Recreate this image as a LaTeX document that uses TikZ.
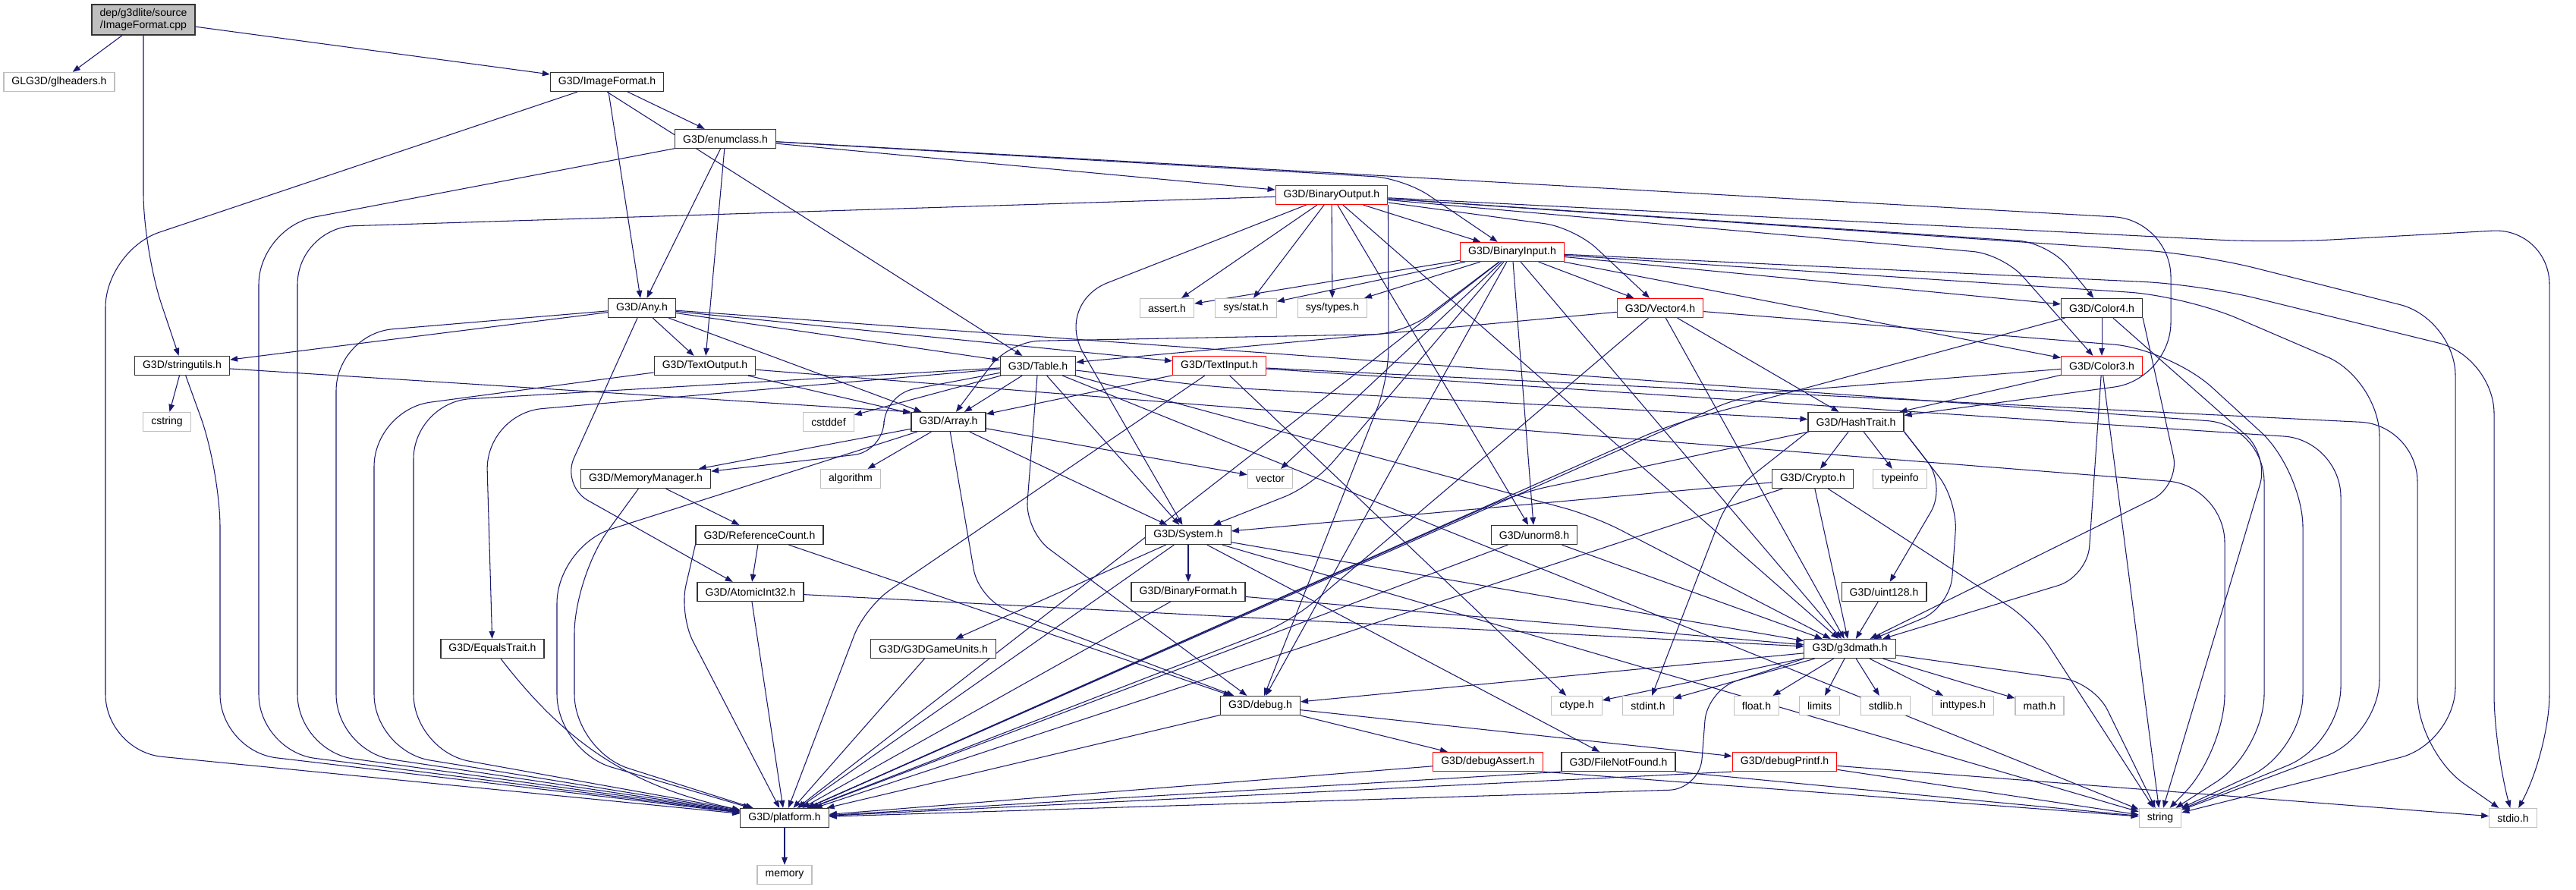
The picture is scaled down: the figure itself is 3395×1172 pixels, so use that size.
\documentclass[tikz,border=0pt]{standalone}
\usepackage{fontspec}
\setmainfont{Liberation Sans}
\usepackage{xcolor}
\usetikzlibrary{arrows.meta,backgrounds}
\definecolor{edgeblue}{HTML}{191970}
\definecolor{extgray}{HTML}{BFBFBF}
\newcommand{\hfont}{\fontsize{8}{9.5}\selectfont}
\tikzset{
  hdr/.style={draw=black!80, fill=white, line width=0.7pt, minimum height=5mm,
    inner xsep=6pt, inner ysep=0pt, font=\hfont},
  trunc/.style={hdr, draw=red},
  ext/.style={hdr, draw=extgray},
  srcfile/.style={hdr, fill=extgray, minimum height=8mm, align=center},
  dep/.style={-{Triangle[length=2mm,width=1.5mm]}, draw=edgeblue, line width=0.6pt},
  lane/.style={dep, rounded corners=15mm},
  bent/.style={dep, rounded corners=8mm},
}

\begin{document}
\begin{tikzpicture}[x=0.2mm, y=-0.2mm]
\useasboundingbox (0,0) rectangle (3395,1172);
% nodes
\node[srcfile] (src) at (189,26) {dep/g3dlite/source\\/ImageFormat.cpp};
\node[ext] (glheaders) at (78,108) {GLG3D/glheaders.h};
\node[hdr] (ImageFormat) at (800,108) {G3D/ImageFormat.h};
\node[hdr] (enumclass) at (956,183) {G3D/enumclass.h};
\node[trunc] (BinaryOutput) at (1755,257) {G3D/BinaryOutput.h};
\node[trunc] (BinaryInput) at (1993,332) {G3D/BinaryInput.h};
\node[hdr] (Any) at (846,406) {G3D/Any.h};
\node[ext] (assertH) at (1538,406) {assert.h};
\node[ext] (sysstat) at (1642,406) {sys/stat.h};
\node[ext] (systypes) at (1756,406) {sys/types.h};
\node[trunc] (Vector4) at (2188,406) {G3D/Vector4.h};
\node[hdr] (Color4) at (2770,406) {G3D/Color4.h};
\node[hdr] (stringutils) at (240,482) {G3D/stringutils.h};
\node[hdr] (TextOutput) at (929,482) {G3D/TextOutput.h};
\node[hdr] (Table) at (1368,482) {G3D/Table.h};
\node[trunc] (TextInput) at (1607,482) {G3D/TextInput.h};
\node[trunc] (Color3) at (2770,482) {G3D/Color3.h};
\node[ext] (cstring) at (220,556) {cstring};
\node[ext] (cstddef) at (1092,556) {cstddef};
\node[hdr] (Array) at (1250,556) {G3D/Array.h};
\node[hdr] (HashTrait) at (2446,556) {G3D/HashTrait.h};
\node[hdr] (MemoryManager) at (851,631) {G3D/MemoryManager.h};
\node[ext] (algorithm) at (1121,631) {algorithm};
\node[ext] (vector) at (1674,631) {vector};
\node[hdr] (Crypto) at (2389,631) {G3D/Crypto.h};
\node[ext] (typeinfo) at (2504,631) {typeinfo};
\node[hdr] (ReferenceCount) at (1001,705) {G3D/ReferenceCount.h};
\node[hdr] (System) at (1566,705) {G3D/System.h};
\node[hdr] (unorm8) at (2022,705) {G3D/unorm8.h};
\node[hdr] (AtomicInt32) at (989,780) {G3D/AtomicInt32.h};
\node[hdr] (BinaryFormat) at (1566,780) {G3D/BinaryFormat.h};
\node[hdr] (uint128) at (2483,780) {G3D/uint128.h};
\node[hdr] (EqualsTrait) at (649,855) {G3D/EqualsTrait.h};
\node[hdr] (G3DGameUnits) at (1230,855) {G3D/G3DGameUnits.h};
\node[hdr] (g3dmath) at (2438,855) {G3D/g3dmath.h};
\node[hdr] (debug) at (1661,930) {G3D/debug.h};
\node[ext] (ctype) at (2078,930) {ctype.h};
\node[ext] (stdint) at (2172,930) {stdint.h};
\node[ext] (floatH) at (2315,930) {float.h};
\node[ext] (limits) at (2398,930) {limits};
\node[ext] (stdlib) at (2485,930) {stdlib.h};
\node[ext] (inttypes) at (2587,930) {inttypes.h};
\node[ext] (mathH) at (2688,930) {math.h};
\node[trunc] (debugAssert) at (1961,1004) {G3D/debugAssert.h};
\node[hdr] (FileNotFound) at (2133,1004) {G3D/FileNotFound.h};
\node[trunc] (debugPrintf) at (2352,1004) {G3D/debugPrintf.h};
\node[hdr] (platform) at (1034,1078) {G3D/platform.h};
\node[ext] (string) at (2847,1078) {string};
\node[ext] (stdio) at (3312,1078) {stdio.h};
\node[ext] (memory) at (1034,1153) {memory};

% edges
\begin{scope}[on background layer]
% ImageFormat.cpp
\draw[dep] (src) -- (glheaders);
\draw[dep] (src) -- (ImageFormat);
\draw[lane] (src) -- (189,330) -- (stringutils);
% ImageFormat.h
\draw[lane] (ImageFormat) -- (139,330) -- (139,990) -- (platform);
\draw[dep] (ImageFormat) -- (enumclass);
\draw[dep] (ImageFormat) -- (Any);
\draw[dep] (ImageFormat.south) -- (Table);
% enumclass.h
\draw[lane] (enumclass) -- (341,300) -- (341,990) -- (platform);
\draw[dep] (enumclass) -- (Any);
\draw[dep] (enumclass) -- (TextOutput);
\draw[dep] (enumclass) -- (BinaryOutput);
\draw[bent] (enumclass) -- (1850,235) -- (BinaryInput);
\draw[lane] (enumclass) -- (2861,290) -- (2861,500) -- (HashTrait);
% BinaryOutput.h
\draw[dep] (BinaryOutput) -- (BinaryInput);
\draw[dep] (BinaryOutput) -- (assertH);
\draw[dep] (BinaryOutput) -- (sysstat);
\draw[dep] (BinaryOutput) -- (systypes);
\draw[dep] (BinaryOutput) -- (unorm8);
\draw[dep] (BinaryOutput) -- (g3dmath);
\draw[lane] (BinaryOutput) -- (392,300) -- (392,990) -- (platform);
\draw[lane] (BinaryOutput) -- (1390,400) -- (System);
\draw[bent] (BinaryOutput.south east) -- (1830,500) -- (debug);
\draw[bent] (BinaryOutput) -- (2075,300) -- (Vector4);
\draw[bent] (BinaryOutput) -- (2700,320) -- (Color4);
\draw[bent] (BinaryOutput) -- (2640,335) -- (Color3);
\draw[lane] (BinaryOutput) -- (2900,335) -- (3236,420) -- (3236,980) -- (string);
\draw[lane] (BinaryOutput) -- (3000,320) -- (3360,300) -- (3360,990) -- (stdio);
% BinaryInput.h
\draw[dep] (BinaryInput) -- (assertH);
\draw[dep] (BinaryInput) -- (sysstat);
\draw[dep] (BinaryInput) -- (systypes);
\draw[dep] (BinaryInput) -- (vector);
\draw[dep] (BinaryInput) -- (unorm8);
\draw[dep] (BinaryInput) -- (Vector4);
\draw[dep] (BinaryInput) -- (Color4);
\draw[dep] (BinaryInput) -- (Color3);
\draw[dep] (BinaryInput) -- (g3dmath);
\draw[dep] (BinaryInput) -- (debug);
\draw[dep] (BinaryInput) -- (platform);
\draw[bent] (BinaryInput) -- (1850,440) -- (1330,450) -- (Array);
\draw[bent] (BinaryInput) -- (1730,640) -- (System);
\draw[lane] (BinaryInput) -- (2880,390) -- (3136,500) -- (3136,970) -- (string);
\draw[lane] (BinaryInput) -- (2900,375) -- (3287,470) -- (3287,990) -- (stdio);
% Any.h
\draw[lane] (Any) -- (443,440) -- (443,990) -- (platform);
\draw[dep] (Any) -- (stringutils);
\draw[dep] (Any) -- (TextOutput);
\draw[dep] (Any) -- (Table);
\draw[dep] (Any) -- (Array);
\draw[dep] (Any) -- (TextInput);
\draw[bent] (Any) -- (740,640) -- (AtomicInt32);
\draw[lane] (Any) -- (2984,560) -- (2984,990) -- (string);
% stringutils.h
\draw[dep] (stringutils) -- (cstring);
\draw[lane] (stringutils) -- (290,620) -- (290,990) -- (platform);
\draw[dep] (stringutils) -- (Array.north west);
% TextOutput.h
\draw[lane] (TextOutput) -- (493,540) -- (493,990) -- (platform);
\draw[dep] (TextOutput) -- (Array);
\draw[lane] (TextOutput) -- (2932,640) -- (2932,990) -- (string);
% Table.h
\draw[dep] (Table) -- (cstddef);
\draw[dep] (Table) -- (Array);
\draw[dep] (Table) -- (System);
\draw[dep] (Table) -- (string);
\draw[bent] (Table) -- (1165,520) -- (1165,595) -- (MemoryManager);
\draw[bent] (Table) -- (1600,510) -- (HashTrait);
\draw[bent] (Table) -- (2100,680) -- (g3dmath);
\draw[bent] (Table) -- (1351,700) -- (debug);
\draw[lane] (Table) -- (545,530) -- (545,990) -- (platform);
\draw[lane] (Table) -- (640,545) -- (EqualsTrait);
% TextInput.h
\draw[dep] (TextInput) -- (Array);
\draw[dep] (TextInput) -- (ctype);
\draw[bent] (TextInput) -- (1140,800) -- (platform);
\draw[lane] (TextInput) -- (3085,580) -- (3085,980) -- (string);
\draw[lane] (TextInput) -- (3186,560) -- (3186,990) -- (stdio);
% Vector4.h
\draw[dep] (Vector4) -- (Table);
\draw[dep] (Vector4) -- (HashTrait);
\draw[dep] (Vector4) -- (g3dmath);
\draw[bent] (Vector4) -- (1700,820) -- (platform);
\draw[lane] (Vector4) -- (2860,460) -- (3035,620) -- (3035,990) -- (string);
% Color4.h, Color3.h
\draw[dep] (Color4) -- (Color3);
\draw[bent] (Color4.south east) -- (2873,640) -- (g3dmath);
\draw[bent] (Color4) -- (2200,560) -- (platform);
\draw[bent] (Color4) -- (2990,600) -- (string);
\draw[dep] (Color3) -- (HashTrait);
\draw[dep] (Color3) -- (string);
\draw[bent] (Color3) -- (2300,520) -- (platform);
\draw[bent] (Color3) -- (2751,760) -- (g3dmath);
% HashTrait.h, Crypto.h
\draw[dep] (HashTrait) -- (Crypto);
\draw[dep] (HashTrait) -- (typeinfo);
\draw[bent] (HashTrait.south east) -- (2565,640) -- (uint128);
\draw[bent] (HashTrait.south east) -- (2580,660) -- (2570,800) -- (g3dmath);
\draw[bent] (HashTrait.south west) -- (2280,650) -- (stdint);
\draw[bent] (HashTrait) -- (2000,650) -- (platform);
\draw[dep] (Crypto) -- (System);
\draw[dep] (Crypto) -- (g3dmath);
\draw[dep] (Crypto) -- (platform);
\draw[bent] (Crypto) -- (2680,820) -- (string);
% Array.h
\draw[dep] (Array) -- (algorithm);
\draw[dep] (Array) -- (vector);
\draw[dep] (Array) -- (MemoryManager);
\draw[dep] (Array) -- (System);
\draw[bent] (Array) -- (1290,790) -- (debug);
\draw[lane] (Array) -- (734,720) -- (734,990) -- (platform);
% lower levels
\draw[dep] (uint128) -- (g3dmath);
\draw[dep] (unorm8) -- (g3dmath);
\draw[dep] (unorm8) -- (platform);
\draw[dep] (MemoryManager) -- (ReferenceCount);
\draw[lane] (MemoryManager) -- (757,760) -- (757,990) -- (platform);
\draw[dep] (ReferenceCount) -- (AtomicInt32);
\draw[dep] (ReferenceCount) -- (debug);
\draw[bent] (ReferenceCount.south west) -- (895,810) -- (platform);
\draw[dep] (AtomicInt32) -- (platform);
\draw[dep] (AtomicInt32) -- (g3dmath);
\draw[dep] (System) -- (BinaryFormat);
\draw[dep] (System) -- (G3DGameUnits);
\draw[dep] (System) -- (platform);
\draw[dep] (System) -- (g3dmath);
\draw[dep] (System) -- (string);
\draw[dep] (System) -- (FileNotFound);
\draw[dep] (BinaryFormat) -- (platform);
\draw[dep] (BinaryFormat) -- (g3dmath);
\draw[dep] (G3DGameUnits) -- (platform);
\draw[dep] (EqualsTrait) to[bend right=20] (platform);
\draw[dep] (debug) -- (platform);
\draw[dep] (debug) -- (debugAssert);
\draw[dep] (debug) -- (debugPrintf);
\draw[dep] (debugAssert) -- (platform);
\draw[dep] (debugAssert.south east) -- (string);
\draw[dep] (FileNotFound.south west) -- (platform);
\draw[dep] (FileNotFound.south east) -- (string);
\draw[dep] (debugPrintf.south west) -- (platform);
\draw[dep] (debugPrintf) -- (string);
\draw[dep] (debugPrintf) -- (stdio);
% g3dmath.h
\draw[dep] (g3dmath) -- (debug);
\draw[dep] (g3dmath) -- (ctype);
\draw[dep] (g3dmath) -- (stdint);
\draw[dep] (g3dmath) -- (floatH);
\draw[dep] (g3dmath) -- (limits);
\draw[dep] (g3dmath) -- (stdlib);
\draw[dep] (g3dmath) -- (inttypes);
\draw[dep] (g3dmath) -- (mathH);
\draw[bent] (g3dmath.south west) -- (2250,910) -- (2240,1040) -- (platform);
\draw[bent] (g3dmath) -- (2760,900) -- (string);
\draw[dep] (platform) -- (memory);
\end{scope}
\end{tikzpicture}
\end{document}
